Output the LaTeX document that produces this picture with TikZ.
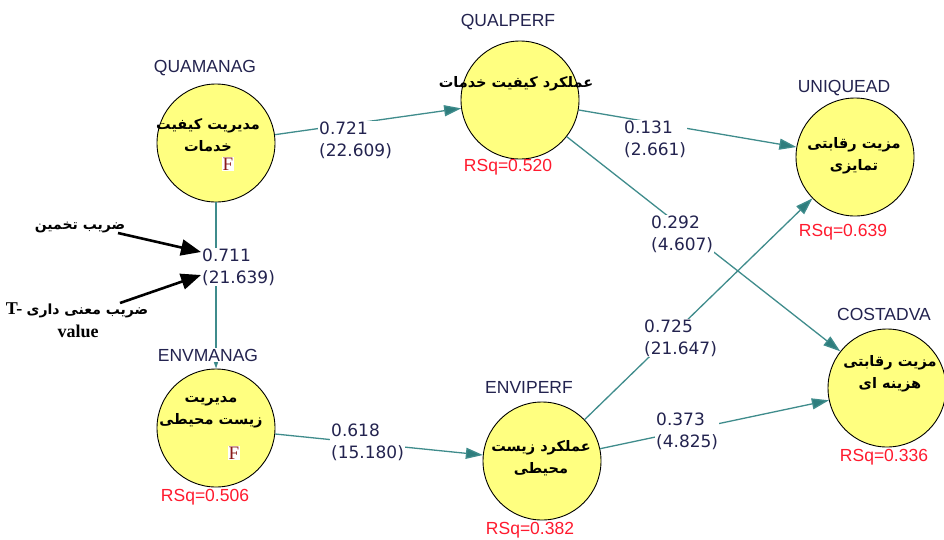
\documentclass[tikz,border=0pt]{standalone}
\usepackage{fontspec}
\setmainfont{Liberation Serif}
\newfontfamily\arabicfont[Script=Arabic]{DejaVu Sans}
\newfontfamily\numfont{DejaVu Sans}
\newfontfamily\labfont{Liberation Sans}
\TeXXeTstate=1
\usetikzlibrary{arrows.meta}
\definecolor{teal1}{HTML}{3F8C8C}
\definecolor{tealtip}{HTML}{2E7D7D}
\definecolor{cyell}{HTML}{FFFF80}
\definecolor{navy1}{HTML}{23234F}
\definecolor{rsqred}{HTML}{FF1A2E}
\definecolor{fred}{HTML}{8B1A1A}
\begin{document}
\begin{tikzpicture}[x=1pt,y=-1pt,
  lv/.style={circle,draw=black,line width=0.9pt,fill=cyell,minimum size=118pt,inner sep=0pt},
  conn/.style={draw=teal1,line width=1.3pt,-{Triangle[length=17pt,width=11pt,fill=tealtip]}},
  ptext/.style={font=\arabicfont\bfseries\fontsize{14.5}{22}\selectfont,align=center,inner sep=0pt},
  vname/.style={font=\labfont\fontsize{17.5}{18}\selectfont,text=navy1,fill=white,inner sep=1pt},
  rsq/.style={font=\labfont\fontsize{17.5}{18}\selectfont,text=rsqred,inner sep=1pt},
  coef/.style={font=\numfont\fontsize{17}{22}\selectfont,text=navy1,fill=white,align=left,anchor=west,inner sep=1pt},
  fbox/.style={font=\rmfamily\fontsize{19}{19}\selectfont,text=fred,fill=white,inner sep=1pt},
  note/.style={font=\rmfamily\bfseries\fontsize{18}{20}\selectfont,inner sep=0pt},
  notep/.style={font=\arabicfont\bfseries\fontsize{14}{20}\selectfont,inner sep=0pt},
  pointer/.style={draw=black,line width=2.6pt,-{Triangle[length=20pt,width=16pt]}}
]
\useasboundingbox (0,0) rectangle (944,539);
\fill[white] (0,0) rectangle (944,539);

% latent variables
\node[lv] (quamanag) at (216,143) {};
\node[lv] (qualperf) at (520,100) {};
\node[lv] (uniquead) at (855,157) {};
\node[lv] (costadva) at (887,388) {};
\node[lv] (envmanag) at (216,428) {};
\node[lv] (enviperf) at (542,461) {};

% connectors
\draw[conn] (quamanag) -- (qualperf);
\draw[conn] (quamanag) -- (envmanag);
\draw[conn] (qualperf) -- (uniquead);
\draw[conn] (qualperf) -- (costadva);
\draw[conn] (envmanag) -- (enviperf);
\draw[conn] (enviperf) -- (uniquead);
\draw[conn] (enviperf) -- (costadva);

% texts in circles
\node[ptext] (t1) at (208,135) {\beginR مدیریت کیفیت\endR\\\beginR خدمات\endR};
\node[ptext] (t2) at (516,84) {\beginR عملکرد کیفیت خدمات\endR};
\node[ptext] (t3) at (854,156) {\beginR مزیت رقابتی\endR\\\beginR تمایزی\endR};
\node[ptext] (t4) at (890,374) {\beginR مزیت رقابتی\endR\\\beginR هزینه ای\endR};
\node[ptext] (t5) at (211,412) {\beginR مدیریت\endR\\\beginR زیست محیطی\endR};
\node[ptext] (t6) at (541,458) {\beginR عملکرد زیست\endR\\\beginR محیطی\endR};
\node[fbox] (f1) at (228,164) {F};
\node[fbox] (f2) at (234,453) {F};

% names
\node[vname] (n1) at (205,68) {QUAMANAG};
\node[vname] (n2) at (508,22) {QUALPERF};
\node[vname] (n3) at (844,88) {UNIQUEAD};
\node[vname] (n4) at (884,314) {COSTADVA};
\node[vname] (n5) at (208,355) {ENVMANAG};
\node[vname] (n6) at (529,387) {ENVIPERF};

% R squares
\node[rsq] (r2) at (508,167) {RSq=0.520};
\node[rsq] (r3) at (843,232) {RSq=0.639};
\node[rsq] (r4) at (884,457) {RSq=0.336};
\node[rsq] (r5) at (205,497) {RSq=0.506};
\node[rsq] (r6) at (530,530) {RSq=0.382};

% coefficients
\node[coef] (c1) at (318,140) {0.721\\(22.609)};
\node[coef] (c2) at (623,139) {0.131\\(2.661)};
\node[coef] (c3) at (650,234) {0.292\\(4.607)};
\node[coef] (c4) at (201,267) {0.711\\(21.639)};
\node[coef] (c5) at (643,338) {0.725\\(21.647)};
\node[coef] (c6) at (655,431) {0.373\\(4.825)};
\node[coef] (c7) at (330,442) {0.618\\(15.180)};

% notes
\node[notep] (a1) at (80,227) {\beginR ضریب تخمین\endR};
\node[inner sep=0pt] (a2) at (77,310) {\rmfamily\bfseries\fontsize{18}{20}\selectfont T-\ {\arabicfont\bfseries\fontsize{14}{20}\selectfont\beginR ضریب معنی داری\endR}};
\node[note] (a3) at (78,331) {value};
\coordinate (p1) at (201,252);
\coordinate (p2) at (201,275);
\coordinate (s1) at (118,233);
\coordinate (s2) at (120,303);
\draw[pointer] (s1) -- (p1);
\draw[pointer] (s2) -- (p2);
\end{tikzpicture}
\end{document}
